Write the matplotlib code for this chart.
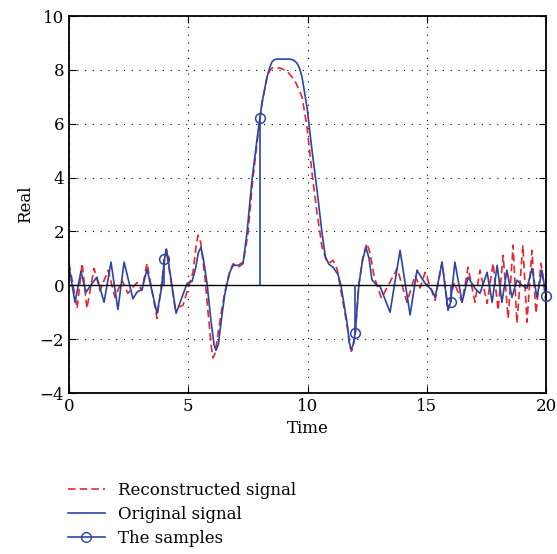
import matplotlib.pyplot as plt
from matplotlib.lines import Line2D

plt.rcParams['font.family'] = ['DejaVu Serif']
plt.rcParams['font.size'] = 12

# original signal
t_orig = [0.0, 0.25, 0.50, 0.71, 0.95, 1.17, 1.47, 1.76, 2.05, 2.31, 2.68, 2.85, 3.06, 3.27,
          3.69, 3.88, 4.00, 4.09, 4.49, 4.95, 5.16, 5.30, 5.42, 5.53, 5.63, 5.79, 5.95, 6.08,
          6.16, 6.26, 6.40, 6.52, 6.62, 6.75, 6.88, 7.09, 7.30, 7.46, 7.67, 7.88, 8.00, 8.09,
          8.30, 8.42, 8.51, 8.62, 8.72, 9.26, 9.42, 9.56, 9.67, 9.77, 9.98, 10.19, 10.40, 10.61,
          10.75, 10.90, 11.07, 11.28, 11.40, 11.66, 11.75, 11.82, 11.90, 12.00, 12.15, 12.30,
          12.45, 12.58, 12.70, 12.91, 13.04, 13.46, 13.88, 14.30, 14.59, 14.93, 15.22, 15.35,
          15.64, 15.89, 16.00, 16.18, 16.48, 16.73, 17.02, 17.23, 17.53, 17.74, 17.95, 18.15,
          18.36, 18.57, 18.78, 18.99, 19.20, 19.41, 19.62, 19.83, 20.0]
y_orig = [0.70, -0.63, 0.52, -0.26, 0.05, 0.30, -0.63, 0.86, -0.90, 0.86, -0.50, -0.25, -0.15, 0.60,
          -1.04, -0.10, 0.97, 1.34, -1.04, 0.07, 0.15, 0.60, 1.20, 1.41, 1.00, 0.05, -1.30, -2.20,
          -2.42, -2.20, -1.20, -0.40, 0.05, 0.50, 0.74, 0.74, 0.85, 1.93, 3.90, 5.40, 6.20, 6.77,
          7.73, 8.10, 8.30, 8.38, 8.40, 8.40, 8.36, 8.25, 8.05, 7.73, 6.60, 5.00, 3.53, 1.93,
          1.05, 0.78, 0.67, 0.40, 0.0, -1.40, -2.10, -2.38, -2.25, -1.78, 0.0, 0.90,
          1.41, 1.00, 0.20, 0.0, -0.04, -1.00, 1.30, -1.10, 0.56, 0.07, -0.19, -0.45,
          0.86, -0.93, -0.63, 0.86, -0.63, 0.30, -0.11, -0.30, 0.48, -0.63, 0.74, -0.63,
          0.56, -0.45, 0.19, 0.0, -0.11, 0.63, -0.45, 0.56, -0.41]

# reconstructed signal
t_rec = [0.0, 0.17, 0.34, 0.55, 0.75, 1.05, 1.30, 1.64, 1.93, 2.22, 2.47, 2.85, 3.06, 3.27,
         3.69, 4.07, 4.45, 4.78, 5.03, 5.20, 5.32, 5.41, 5.52, 5.70, 5.85, 5.97, 6.04, 6.13,
         6.35, 6.50, 6.62, 6.75, 6.88, 7.09, 7.30, 7.50, 7.70, 7.90, 8.10, 8.30, 8.42, 8.51,
         8.84, 9.14, 9.47, 9.77, 9.98, 10.19, 10.40, 10.61, 10.82, 10.95, 11.07, 11.24, 11.36,
         11.66, 11.76, 11.84, 11.92, 12.00, 12.15, 12.33, 12.49, 12.62, 12.80, 13.10, 13.76,
         14.17, 14.51, 14.72, 14.93, 15.35, 15.64, 15.89, 16.15, 16.48, 16.73, 17.02, 17.23,
         17.53, 17.78, 17.99, 18.20, 18.41, 18.62, 18.78, 19.03, 19.20, 19.41, 19.58, 19.79,
         20.0]
y_rec = [0.82, 0.0, -0.86, 0.82, -0.86, 0.63, -0.20, 0.56, -0.45, 0.19, -0.30, 0.10, -0.19, 0.82,
         -1.23, 1.34, -0.86, -0.74, 0.0, 0.50, 1.40, 1.86, 1.60, 0.30, -1.20, -2.30, -2.70, -2.50,
         -1.20, -0.40, 0.10, 0.55, 0.80, 0.67, 0.80, 1.90, 3.90, 5.40, 6.80, 7.70, 7.98, 8.07,
         8.07, 7.96, 7.60, 7.00, 5.87, 4.16, 2.68, 1.41, 0.86, 0.85, 0.93, 0.60, 0.0,
         -1.50, -2.20, -2.45, -2.30, -1.80, 0.0, 1.10, 1.56, 1.20, 0.30, -0.48, 0.63,
         -0.63, 0.37, -0.10, 0.48, -0.56, 0.86, -0.85, 0.10, -0.63, 0.67, -0.63, 0.56,
         -0.67, 0.82, -0.93, 1.11, -1.23, 1.49, -1.41, 1.49, -1.37, 1.30, -1.04, 0.82,
         -0.63]

# samples
t_samp = [4, 8, 12, 16, 20]
y_samp = [0.97, 6.20, -1.78, -0.63, -0.41]

blue = '#2b44a6'
red = '#e8262c'

fig = plt.figure(figsize=(5.57, 5.54), dpi=100)
ax = fig.add_axes([0.1239, 0.2906, 0.8564, 0.6805])

ax.plot(t_rec, y_rec, color=red, lw=1.2, dashes=(4.5, 2.5))
ax.plot(t_orig, y_orig, color=blue, lw=1.2)
ax.axhline(0, color='k', lw=1.0)
ax.vlines(t_samp, 0, y_samp, color=blue, lw=1.2)
ax.plot(t_samp, y_samp, 'o', mfc='none', mec=blue, ms=7, mew=1.1, clip_on=False, zorder=5)

ax.set_xlim(0, 20)
ax.set_ylim(-4, 10)
ax.set_xticks([0, 5, 10, 15, 20])
ax.set_yticks([-4, -2, 0, 2, 4, 6, 8, 10])
ax.grid(True, color='k', ls=(0, (1, 6)), lw=0.8)
ax.tick_params(direction='in', length=5, top=True, right=True, width=0.8)
for s in ax.spines.values():
    s.set_linewidth(1.3)
ax.set_xlabel('Time')
ax.set_ylabel('Real')

handles = [Line2D([], [], color=red, lw=1.2, dashes=(4.5, 2.5)),
           Line2D([], [], color=blue, lw=1.2),
           Line2D([], [], color=blue, lw=1.2, marker='o', mfc='none', ms=7)]
labels = ['Reconstructed signal', 'Original signal', 'The samples']
fig.legend(handles, labels, loc='upper left', bbox_to_anchor=(0.122, 0.13),
           frameon=False, handlelength=2.2, handletextpad=0.8, labelspacing=0.42,
           borderaxespad=0, borderpad=0)

fig.savefig('out.png', dpi=100)
